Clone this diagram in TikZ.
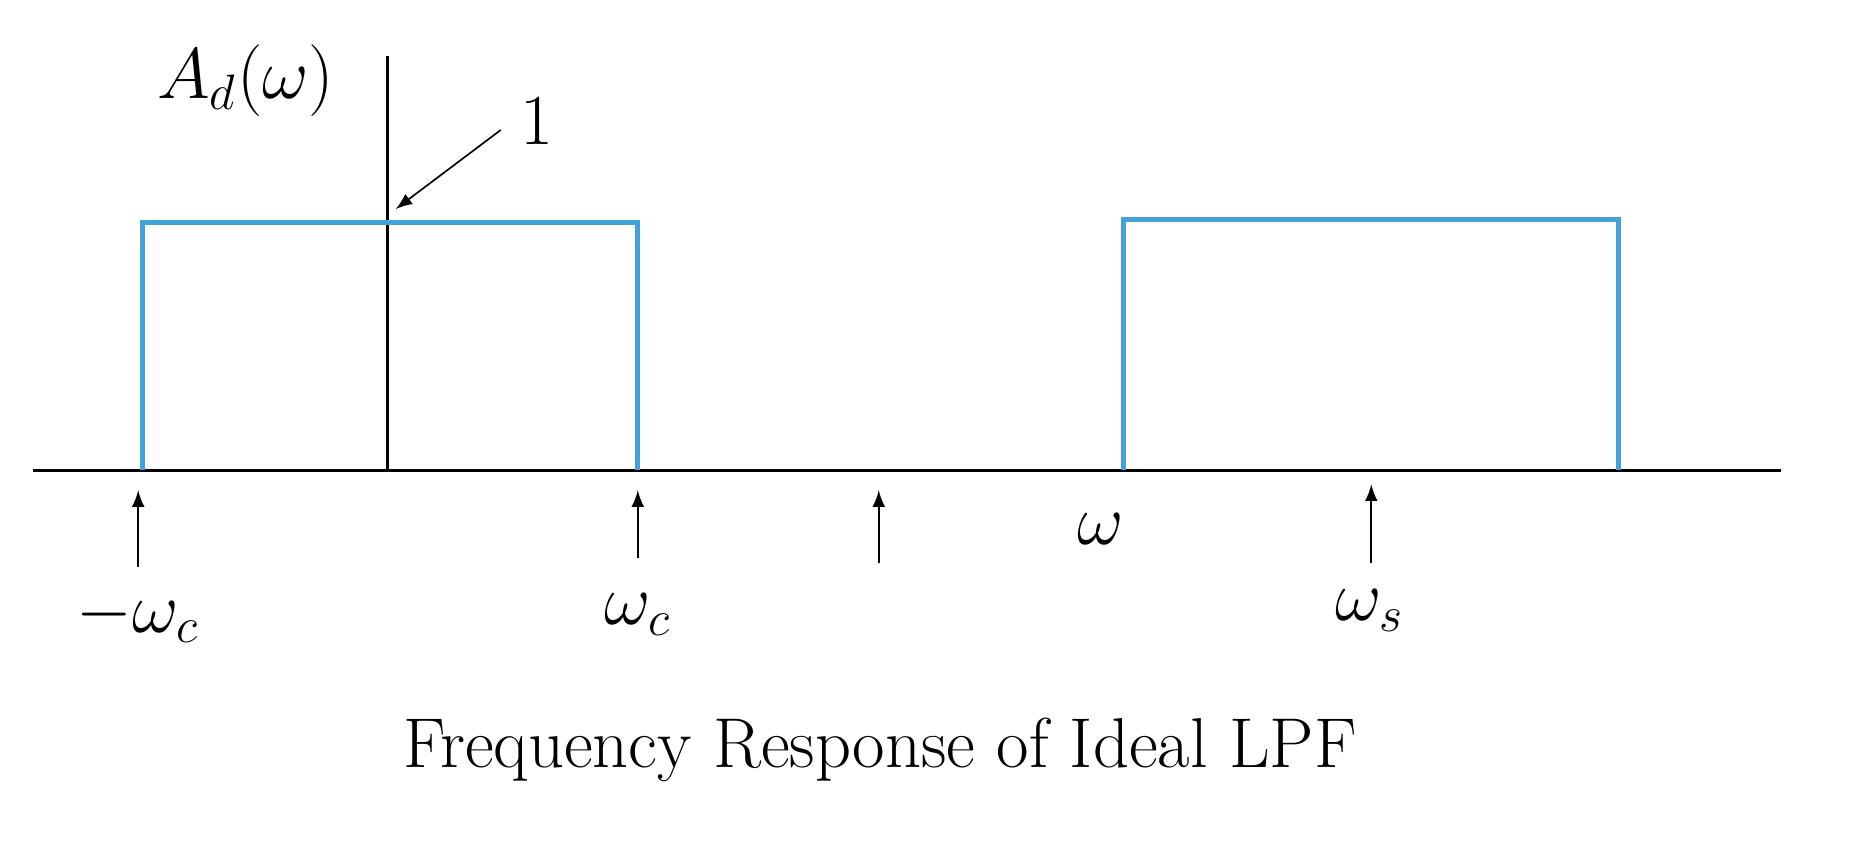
\documentclass[tikz,border=0pt]{standalone}
\usetikzlibrary{positioning}
\definecolor{lpfblue}{RGB}{66,160,218}
\begin{document}
\begin{tikzpicture}[x=1cm, y=1cm,
    lbl/.style={font=\fontsize{17}{20}\selectfont},
    pass/.style={lpfblue, line width=1.2pt},
    tick/.style={-latex, thin}]
    \useasboundingbox (0,0) rectangle (15.68,7.15);

    % Ejes
    \coordinate (axL) at (0.28,3.17);
    \coordinate (axR) at (15.08,3.17);
    \coordinate (orig) at (3.28,3.17);
    \coordinate (ytop) at (3.28,6.68);
    \draw[line width=0.7pt] (axL) -- (axR);
    \draw[line width=0.6pt] (orig) -- (ytop);
    \node[lbl, font=\fontsize{18.5}{22}\selectfont] (Alabel) at (2.08,6.47) {$A_d(\omega)$};

    % Bandas de paso
    \draw[pass] (1.21,3.17) -- (1.21,5.27) -- (5.40,5.27) -- (5.40,3.17);
    \draw[pass] (9.51,3.17) -- (9.51,5.29) -- (13.70,5.29) -- (13.70,3.17);

    % Marca del valor 1
    \node[lbl, font=\fontsize{19}{22}\selectfont] (one) at (4.55,6.12) {$1$};
    \coordinate (onetip) at (3.35,5.38);
    \draw[tick] (4.24,6.05) -- (onetip);

    % Flechas de frecuencia
    \coordinate (t1) at (1.17,3.00);
    \coordinate (t2) at (5.40,3.00);
    \coordinate (t3) at (7.44,3.00);
    \coordinate (t4) at (11.61,3.05);
    \node[lbl] (mwc) at (1.17,1.93) {$-\omega_c$};
    \node[lbl] (wc) at (5.40,1.95) {$\omega_c$};
    \node[lbl] (w) at (9.32,2.67) {$\omega$};
    \node[lbl] (ws) at (11.60,1.98) {$\omega_s$};
    \draw[tick] (1.17,2.35) -- (t1);
    \draw[tick] (5.40,2.43) -- (t2);
    \draw[tick] (7.44,2.38) -- (t3);
    \draw[tick] (11.61,2.38) -- (t4);

    % Titulo
    \node[lbl] (title) at (7.45,0.80) {Frequency Response of Ideal LPF};
\end{tikzpicture}
\end{document}
